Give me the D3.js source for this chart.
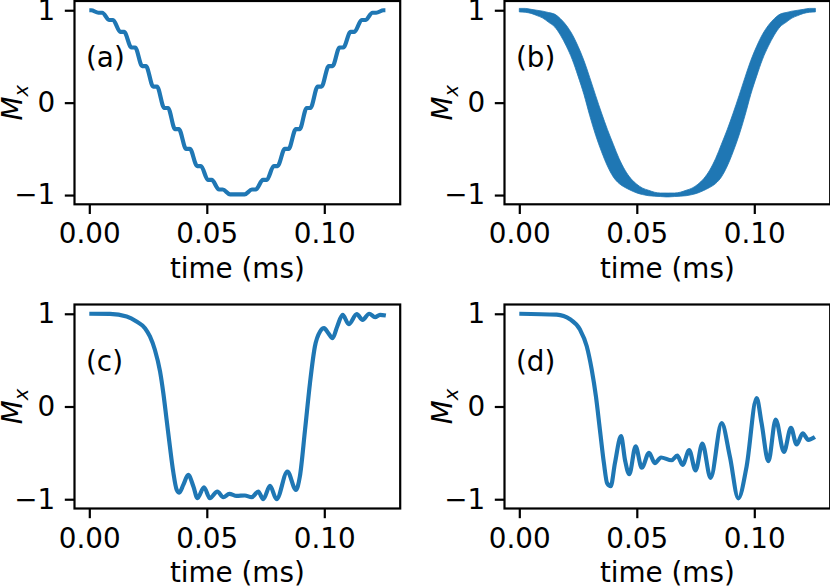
<!DOCTYPE html>
<html><head><meta charset="utf-8">
<script src="https://cdn.jsdelivr.net/npm/d3@7"></script>
<style>
body{margin:0;background:#fff}
svg{display:block}
text{font-family:"DejaVu Sans",sans-serif;fill:#000}
</style>
</head><body>
<svg id="chart" width="830" height="586"></svg>
<script>
// ---------- data ----------
// (a) staircase cosine
const timeA = [0,0.0008,0.0039,0.0055,0.0085,0.0101,0.0132,0.0148,0.0179,0.0195,0.0225,0.0241,0.0272,0.0288,0.0319,0.0335,0.0365,0.0381,0.0412,0.0428,0.0459,0.0475,0.0505,0.0521,0.0552,0.0568,0.0599,0.0615,0.0645,0.0661,0.0692,0.0708,0.0739,0.0755,0.0785,0.0801,0.0832,0.0848,0.0879,0.0895,0.0925,0.0941,0.0972,0.0988,0.1019,0.1035,0.1065,0.1081,0.1112,0.1128,0.1159,0.1175,0.1205,0.1221,0.1252,0.126];
const mxA = [1,1,0.973,0.973,0.894,0.894,0.766,0.766,0.597,0.597,0.396,0.396,0.174,0.174,-0.058,-0.058,-0.287,-0.287,-0.5,-0.5,-0.686,-0.686,-0.836,-0.836,-0.94,-0.94,-0.993,-0.993,-0.993,-0.993,-0.94,-0.94,-0.836,-0.836,-0.686,-0.686,-0.5,-0.5,-0.287,-0.287,-0.058,-0.058,0.174,0.174,0.396,0.396,0.597,0.597,0.766,0.766,0.894,0.894,0.973,0.973,1,1];

// (b) fast oscillation: upper and lower edges of the band
const timeB = [0,0.0025,0.005,0.0075,0.01,0.0125,0.015,0.0175,0.02,0.0225,0.025,0.0275,0.03,0.0325,0.035,0.0375,0.04,0.0425,0.045,0.0475,0.05,0.0525,0.055,0.0575,0.06,0.0625,0.063,0.0635,0.066,0.0685,0.071,0.0735,0.076,0.0785,0.081,0.0835,0.086,0.0885,0.091,0.0935,0.096,0.0985,0.101,0.1035,0.106,0.1085,0.111,0.1135,0.116,0.1185,0.121,0.1235,0.126];
const mxBUpper = [1.02,1.02,1.01,1.0,0.99,0.975,0.958,0.909,0.837,0.74,0.61,0.456,0.27,0.076,-0.113,-0.29,-0.451,-0.607,-0.731,-0.822,-0.883,-0.925,-0.948,-0.969,-0.978,-0.978,-0.978,-0.978,-0.978,-0.969,-0.948,-0.925,-0.883,-0.822,-0.731,-0.607,-0.451,-0.29,-0.113,0.076,0.27,0.456,0.61,0.74,0.837,0.909,0.958,0.975,0.99,1.0,1.01,1.02,1.02];
const mxBLower = [0.982,0.978,0.966,0.942,0.915,0.869,0.821,0.731,0.612,0.469,0.287,0.089,-0.143,-0.353,-0.531,-0.686,-0.804,-0.876,-0.918,-0.95,-0.977,-0.995,-1.007,-1.012,-1.016,-1.02,-1.02,-1.02,-1.016,-1.012,-1.007,-0.995,-0.977,-0.95,-0.918,-0.876,-0.804,-0.686,-0.531,-0.353,-0.143,0.089,0.287,0.469,0.612,0.731,0.821,0.869,0.915,0.942,0.966,0.978,0.982];

// (c)
const timeC = [0,0.0088,0.0159,0.0201,0.0237,0.0258,0.0279,0.0301,0.0315,0.0329,0.0343,0.0357,0.0372,0.0383,0.04,0.0421,0.0443,0.046,0.0488,0.0513,0.0545,0.057,0.0596,0.0627,0.0662,0.0691,0.0719,0.074,0.0769,0.0797,0.0843,0.0879,0.0896,0.0918,0.0939,0.096,0.0982,0.0999,0.1017,0.1035,0.1055,0.1078,0.1104,0.1138,0.1163,0.1191,0.1216,0.1237,0.1262];
const mxC = [1.0,0.998,0.971,0.917,0.845,0.755,0.612,0.378,0.144,-0.144,-0.432,-0.701,-0.899,-0.928,-0.845,-0.737,-0.863,-0.989,-0.871,-0.989,-0.917,-0.978,-0.942,-0.964,-0.96,-0.978,-0.917,-1.0,-0.856,-1.0,-0.701,-0.899,-0.755,-0.252,0.252,0.647,0.809,0.845,0.791,0.737,0.863,0.989,0.888,0.996,0.935,1.0,0.964,0.989,0.982];

// (d)
const timeD = [0,0.0159,0.0216,0.0258,0.0287,0.0308,0.0326,0.0343,0.036,0.0374,0.0389,0.0407,0.0433,0.045,0.0468,0.0495,0.0521,0.0552,0.0577,0.0603,0.0648,0.0672,0.0695,0.0723,0.075,0.0779,0.0814,0.0861,0.0896,0.0932,0.0967,0.101,0.1031,0.106,0.1091,0.1126,0.1156,0.118,0.1206,0.123,0.1258];
const mxD = [1.0,0.99,0.94,0.83,0.65,0.4,0.11,-0.25,-0.61,-0.83,-0.86,-0.61,-0.32,-0.58,-0.73,-0.43,-0.66,-0.5,-0.61,-0.55,-0.58,-0.53,-0.63,-0.47,-0.69,-0.4,-0.77,-0.18,-0.54,-0.99,-0.65,0.09,-0.18,-0.59,-0.14,-0.49,-0.23,-0.41,-0.29,-0.36,-0.33];

const xTicks = [0, 0.05, 0.10];
const xTickLabels = ["0.00", "0.05", "0.10"];
const yTicks = [1, 0, -1];
const yTickLabels = ["1", "0", "\u22121"];
const panelLabels = ["(a)", "(b)", "(c)", "(d)"];
const xLabelText = "time (ms)";

// ---------- layout ----------
const FS = 27.8, LW = 4.17, SPW = 2.2, TL = 9.7, TP = 9.7;
const COLOR = "#1f77b4";
const xDomain = [-0.0063, 0.1323], yDomain = [-1.1, 1.1];
const boxes = [
  {x0: 74.5, x1: 400.2, y0: 1, y1: 204.3},
  {x0: 504.5, x1: 830.2, y0: 1, y1: 204.3},
  {x0: 74.5, x1: 400.2, y0: 304.5, y1: 508.5},
  {x0: 504.5, x1: 830.2, y0: 304.5, y1: 508.5}
];

const svg = d3.select("#chart");

boxes.forEach((b, i) => {
  const x = d3.scaleLinear().domain(xDomain).range([b.x0, b.x1]);
  const y = d3.scaleLinear().domain(yDomain).range([b.y1, b.y0]);
  const g = svg.append("g");

  // data marks
  if (i === 1) {
    const rows = timeB.map((t, k) => ({t, hi: mxBUpper[k], lo: mxBLower[k]}));
    g.append("path").datum(rows)
      .attr("fill", COLOR).attr("stroke", COLOR).attr("stroke-width", 0.8)
      .attr("d", d3.area().curve(d3.curveMonotoneX)
        .x(d => x(d.t)).y0(d => y(d.lo)).y1(d => y(d.hi)));
  } else {
    const T = [timeA, null, timeC, timeD][i];
    const M = [mxA, null, mxC, mxD][i];
    const rows = T.map((t, k) => ({t, m: M[k]}));
    g.append("path").datum(rows)
      .attr("fill", "none").attr("stroke", COLOR).attr("stroke-width", LW)
      .attr("stroke-linejoin", "round").attr("stroke-linecap", "butt")
      .attr("d", d3.line().curve(d3.curveMonotoneX).x(d => x(d.t)).y(d => y(d.m)));
  }

  // axes
  const ax = g.append("g").attr("transform", `translate(0,${b.y1})`)
    .call(d3.axisBottom(x).tickValues(xTicks).tickSize(TL).tickPadding(TP)
      .tickFormat((d, k) => xTickLabels[k]));
  const ay = g.append("g").attr("transform", `translate(${b.x0},0)`)
    .call(d3.axisLeft(y).tickValues(yTicks).tickSize(TL).tickPadding(TP)
      .tickFormat((d, k) => yTickLabels[k]));
  [ax, ay].forEach(a => {
    a.select(".domain").remove();
    a.selectAll(".tick line").attr("stroke", "#000").attr("stroke-width", SPW);
    a.selectAll(".tick text").attr("font-size", FS).attr("font-family", "DejaVu Sans").attr("fill", "#000");
  });

  // frame
  g.append("rect").attr("x", b.x0).attr("y", b.y0)
    .attr("width", b.x1 - b.x0).attr("height", b.y1 - b.y0)
    .attr("fill", "none").attr("stroke", "#000").attr("stroke-width", SPW);

  // x label
  g.append("text").attr("x", (b.x0 + b.x1) / 2).attr("y", b.y1 + 73.5)
    .attr("text-anchor", "middle").attr("font-size", FS).text(xLabelText);

  // y label M_x
  const yl = g.append("text")
    .attr("transform", `translate(${b.x0 - 52.5},${(b.y0 + b.y1) / 2}) rotate(-90)`)
    .attr("text-anchor", "middle").attr("font-size", FS);
  yl.append("tspan").attr("font-style", "italic").text("M");
  yl.append("tspan").attr("font-style", "italic").attr("font-size", FS * 0.7).attr("dy", 6).text("x");

  // panel label
  g.append("text").attr("x", b.x0 + 11.5).attr("y", b.y0 + 66)
    .attr("font-size", FS).text(panelLabels[i]);
});
</script>
</body></html>
